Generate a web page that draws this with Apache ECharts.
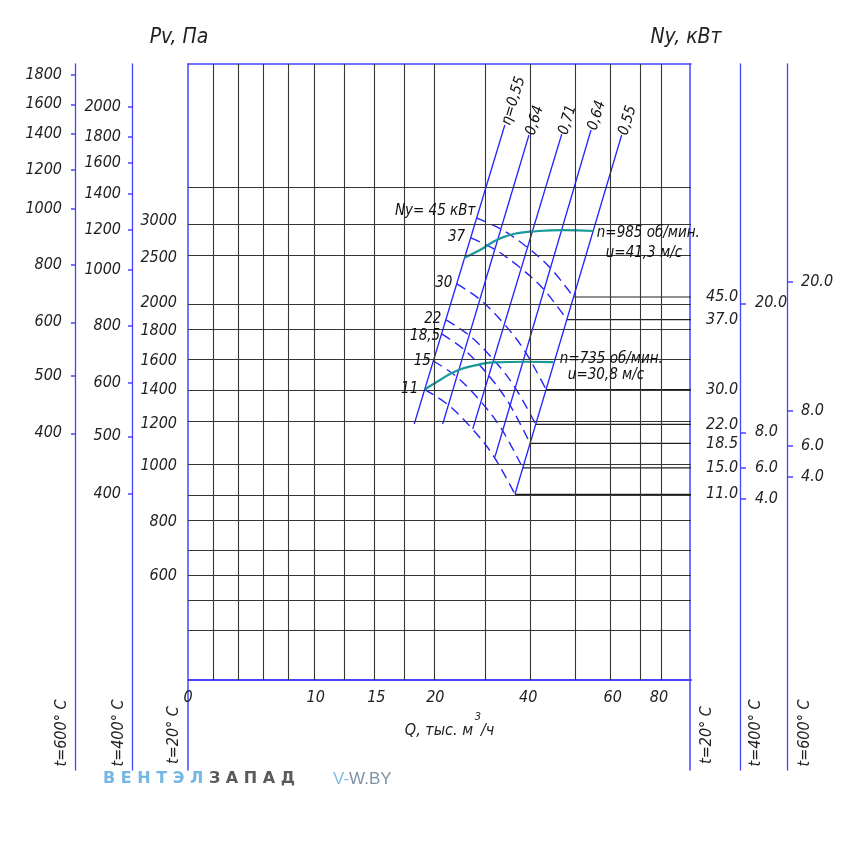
<!DOCTYPE html>
<html><head><meta charset="utf-8">
<script src="https://cdn.jsdelivr.net/npm/echarts@6/dist/echarts.min.js"></script>
<style>html,body{margin:0;padding:0;background:#fff}#c{width:851px;height:853px}</style>
</head><body><div id="c"></div>
<script>
// ---------- scale calibration of the nomogram (value -> fraction of plot) ----------
const qGridVals=[0,2,4,6,8,10,12.5,15,17.5,20,30,40,50,60,70,80,100];
const qGridFrac=[0,0.0523,0.1034,0.1537,0.2042,0.2539,0.3135,0.3744,0.4348,0.4917,0.5851,0.6765,0.7728,0.8443,0.8972,0.9364,1];
const pvGridVals=[300,400,500,600,700,800,900,1000,1200,1400,1600,1800,2000,2500,3000,4000,8000];
const pvGridFrac=[0,0.0752,0.1250,0.1688,0.2127,0.2570,0.3019,0.3479,0.4156,0.4713,0.5183,0.5661,0.6115,0.6856,0.7446,0.7998,1];

// tick labels
const qTickLabels=[0,10,15,20,40,60,80];
const pv20Labels=[3000,2500,2000,1800,1600,1400,1200,1000,800,600];
const pv600Ticks=[1800,1600,1400,1200,1000,800,600,500,400];
const pv600Frac=[0.9821,0.9346,0.8869,0.8284,0.7651,0.6737,0.5807,0.4935,0.4005];
const pv400Ticks=[2000,1800,1600,1400,1200,1000,800,600,500,400];
const pv400Frac=[0.9307,0.8820,0.8398,0.7898,0.7313,0.6664,0.5752,0.4826,0.3956,0.3019];
const n400Ticks=[20,8,6,4];
const n400Frac=[0.6115,0.4021,0.3446,0.2943];
const n600Ticks=[20,8,6,4];
const n600Frac=[0.6466,0.4372,0.3799,0.3295];

// efficiency lines (top -> bottom)
const etaNames=['η=0,55','0,64','0,71','0,64','0,55'];
const etaQ=[[34.9,18.16],[40.14,21.57],[46.9,27.96],[53.97,32.76],[63.38,37.1]];
const etaPv=[[6023,1200],[5698,1200],[5721,1176],[5860,1043],[5698,899]];

// constant power lines Ny, kW
const nyVals=[45,37,30,22,18.5,15,11];
const nyNames=['Ny= 45 кВт','37','30','22','18,5','15','11'];
const nyQ=[
 [28.83,34.07,39.33,44.36,49.36],
 [27.53,32.72,37.93,43.02,47.98],
 [24.57,29.32,34.17,39.02,43.68],
 [22.26,27.04,31.85,36.74,41.53],
 [21.34,26.04,30.78,35.59,40.37],
 [19.83,24.36,29.11,33.96,38.8],
 [19.08,22.57,27.36,32.22,37.11]];
const nyPv=[
 [3097,2893,2665,2398,2069],
 [2771,2614,2403,2162,1884],
 [2212,2049,1874,1677,1401],
 [1881,1777,1628,1434,1198],
 [1782,1678,1520,1329,1107],
 [1598,1494,1349,1184,992],
 [1401,1315,1189,1054,899]];

// fan curves
const n985Q=[26.17,29.51,33.13,36.74,40.35,47.23,54.61];
const n985Pv=[2500,2606,2743,2826,2857,2880,2867];
const n735Q=[19.1,21.0,24.55,28.81,32.39,39.65,45.17];
const n735Pv=[1403,1467,1531,1570,1589,1593,1591];

// ---------- helpers ----------
function interp(v,xs,ys){let i=0;if(v<=xs[0])i=0;else if(v>=xs[xs.length-1])i=xs.length-2;else{while(v>xs[i+1])i++;}
 const t=(v-xs[i])/(xs[i+1]-xs[i]);return ys[i]+t*(ys[i+1]-ys[i]);}
const qToU=q=>interp(q,qGridVals,qGridFrac);
const pvToU=p=>interp(p,pvGridVals,pvGridFrac);
const FF="'DejaVu Sans Condensed','Liberation Sans Narrow',sans-serif";
const TXT='#222222', AXC='#4545ff', ETA='#2424ff', GRIDC='#363636', TEAL='#18999a';
const U_BOT=-90/616;
function lookup(list){return (v)=>{let best=list[0],d=1e9;list.forEach(e=>{const dd=Math.abs(e.u-v);if(dd<d){d=dd;best=e;}});return best.t;};}
const lblStyle={color:TXT,fontSize:16,fontStyle:'italic',fontFamily:FF};

// ---------- axes ----------
const grids=[
 {left:188,top:64,width:503,height:616},
 {left:75,top:64,width:1,height:706},
 {left:132,top:64,width:1,height:706},
 {left:188,top:64,width:1,height:706},
 {left:690,top:64,width:1,height:706},
 {left:740,top:64,width:1,height:706},
 {left:787,top:64,width:1,height:706}];
const qLab=qTickLabels.map(q=>({u:qToU(q),t:String(q)}));
const xAxes=[
 {gridIndex:0,type:'value',min:0,max:1,position:'bottom',axisLine:{show:true,lineStyle:{color:AXC,width:2}},axisTick:{show:false},splitLine:{show:false},
  axisLabel:Object.assign({customValues:qLab.map(e=>e.u),formatter:lookup(qLab),margin:10},lblStyle)},
 {gridIndex:0,type:'value',min:0,max:1,position:'top',axisLine:{show:true,lineStyle:{color:AXC,width:1.5}},axisTick:{show:false},axisLabel:{show:false},splitLine:{show:false}}];
for(let g=1;g<=6;g++) xAxes.push({gridIndex:g,type:'value',show:false,min:0,max:1});

function sideAxis(g,pos,list,margin,tickLen,lw){
 return {gridIndex:g,type:'value',min:U_BOT,max:1,position:pos,
  axisLine:{show:true,lineStyle:{color:AXC,width:lw}},
  axisTick:{show:tickLen>0,length:tickLen,customValues:list.map(e=>e.u),lineStyle:{color:AXC,width:1.5}},
  axisLabel:Object.assign({customValues:list.map(e=>e.u),formatter:lookup(list),margin:margin},lblStyle),
  splitLine:{show:false}};
}
const l600=pv600Ticks.map((v,i)=>({u:pv600Frac[i],t:String(v)}));
const l400=pv400Ticks.map((v,i)=>({u:pv400Frac[i],t:String(v)}));
const l20=pv20Labels.map(v=>({u:pvToU(v),t:String(v)}));
const r20=nyVals.map((v,i)=>({u:pvToU(nyPv[i][4]),t:v.toFixed(1)}));
const r400=n400Ticks.map((v,i)=>({u:n400Frac[i],t:v.toFixed(1)}));
const r600=n600Ticks.map((v,i)=>({u:n600Frac[i],t:v.toFixed(1)}));
const yAxes=[
 {gridIndex:0,type:'value',min:0,max:1,show:false},
 sideAxis(1,'left',l600,13,4,1.3),
 sideAxis(2,'left',l400,11,4,1.3),
 sideAxis(3,'left',l20,11,0,1.5),
 sideAxis(4,'right',r20,15,0,1.5),
 sideAxis(5,'right',r400,14,6,1.3),
 sideAxis(6,'right',r600,13,6,1.3)];

// ---------- series ----------
const series=[];
const gridLines=[];
qGridVals.slice(1,-1).forEach(q=>gridLines.push({xAxis:qToU(q)}));
pvGridVals.slice(1,-1).forEach(p=>gridLines.push({yAxis:pvToU(p)}));
series.push({type:'line',data:[[0,0]],symbol:'none',lineStyle:{opacity:0},silent:true,animation:false,
 markLine:{silent:true,animation:false,symbol:['none','none'],label:{show:false},lineStyle:{color:GRIDC,width:1.1,type:'solid'},emphasis:{disabled:true},data:gridLines}});
// Ny horizontal leaders to right scale
nyVals.forEach((v,i)=>{const p=nyPv[i][4];
 series.push({type:'line',data:[[qToU(nyQ[i][4]),pvToU(p)],[1,pvToU(p)]],symbol:'none',silent:true,animation:false,lineStyle:{color:'#1e1e1e',width:1.2}});});
// efficiency lines
etaQ.forEach((qs,i)=>series.push({type:'line',data:qs.map((q,j)=>[qToU(q),pvToU(etaPv[i][j])]),symbol:'none',silent:true,animation:false,lineStyle:{color:ETA,width:1.3},z:3}));
// Ny dashed curves
nyQ.forEach((qs,i)=>series.push({type:'line',smooth:0.35,data:qs.map((q,j)=>[qToU(q),pvToU(nyPv[i][j])]),symbol:'none',silent:true,animation:false,lineStyle:{color:ETA,width:1.4,type:[10,6]},z:3}));
// fan curves
series.push({type:'line',smooth:0.5,data:n985Q.map((q,j)=>[qToU(q),pvToU(n985Pv[j])]),symbol:'none',silent:true,animation:false,lineStyle:{color:TEAL,width:2.2},z:4});
series.push({type:'line',smooth:0.5,data:n735Q.map((q,j)=>[qToU(q),pvToU(n735Pv[j])]),symbol:'none',silent:true,animation:false,lineStyle:{color:TEAL,width:2.2},z:4});

const smallLbl={color:'#111111',opacity:1,fontSize:15,fontStyle:'italic',fontFamily:FF};
const HIDE={color:'rgba(255,255,255,0)',opacity:1};
const labelSeries=(lbl,data)=>({type:'scatter',symbolSize:1,itemStyle:HIDE,silent:true,animation:false,z:5,
 emphasis:{disabled:true},label:Object.assign({show:true},lbl,smallLbl),data:data});
// eta labels
series.push(labelSeries({position:'right',distance:1,rotate:73,align:'left',verticalAlign:'middle'},
 etaNames.map((n,i)=>({value:[qToU(etaQ[i][0]),pvToU(etaPv[i][0])],label:{formatter:n}}))));
// Ny labels
const nyDist=[1,5,4,4,1,2,6], nyOff=[[0,-7],[0,-1],[0,-1],[0,-1],[0,2],[0,0],[0,0]];
series.push(labelSeries({position:'left',align:'right',verticalAlign:'middle'},
 nyNames.map((n,i)=>({value:[qToU(nyQ[i][0]),pvToU(nyPv[i][0])],label:{formatter:n,distance:nyDist[i],offset:nyOff[i]}}))));
// fan curve labels
const e985=[qToU(n985Q[n985Q.length-1]),pvToU(n985Pv[n985Pv.length-1])];
const e735=[qToU(n735Q[n735Q.length-1]),pvToU(n735Pv[n735Pv.length-1])];
series.push(labelSeries({position:'right',align:'left',verticalAlign:'middle'},[
  {value:e985,label:{formatter:'n=985 об/мин.',distance:3,offset:[0,2]}},
  {value:e985,label:{formatter:'u=41,3 м/с',distance:12,offset:[0,22]}},
  {value:e735,label:{formatter:'n=735 об/мин.',distance:6,offset:[0,-3]}},
  {value:e735,label:{formatter:'u=30,8 м/с',distance:14,offset:[0,13]}}]));

// ---------- texts ----------
function txt(x,y,s,size,rot){return {type:'text',x:x,y:y,rotation:rot||0,silent:true,
 style:{text:s,fill:TXT,font:'italic '+size+'px '+FF,align:'center',verticalAlign:'middle',textAlign:'center',textVerticalAlign:'middle'}};}
const graphic=[
 txt(179,38,'Pv, Па',21),
 txt(686,38,'Ny, кВт',21),
 txt(62,733,'t=600° С',16,Math.PI/2),
 txt(119,733,'t=400° С',16,Math.PI/2),
 txt(174,735,'t=20° С',16,Math.PI/2),
 txt(707,735,'t=20° С',16,Math.PI/2),
 txt(756,733,'t=400° С',16,Math.PI/2),
 txt(805,733,'t=600° С',16,Math.PI/2),
 {type:'text',x:473,y:731,silent:true,style:{text:'Q, тыс. м',fill:TXT,font:'italic 16px '+FF,align:'right',verticalAlign:'middle',textAlign:'right',textVerticalAlign:'middle'}},
 {type:'text',x:478,y:717,silent:true,style:{text:'3',fill:TXT,font:'italic 11px '+FF,align:'center',verticalAlign:'middle',textAlign:'center',textVerticalAlign:'middle'}},
 {type:'text',x:481,y:731,silent:true,style:{text:'/ч',fill:TXT,font:'italic 16px '+FF,align:'left',verticalAlign:'middle',textAlign:'left',textVerticalAlign:'middle'}},
 {type:'text',x:103,y:779,silent:true,style:{text:'{a|В Е Н Т Э Л }{b|З А П А Д}',align:'left',verticalAlign:'middle',textAlign:'left',textVerticalAlign:'middle',
   rich:{a:{fill:'#74b6e4',font:'bold 16px "DejaVu Sans",sans-serif'},b:{fill:'#5a5a5a',font:'bold 16px "DejaVu Sans",sans-serif'}}}},
 {type:'text',x:333,y:779,silent:true,style:{text:'{a|V-}{b|W.BY}',align:'left',verticalAlign:'middle',textAlign:'left',textVerticalAlign:'middle',
   rich:{a:{fill:'#7ec0ea',font:'17px "Liberation Sans",sans-serif'},b:{fill:'#7f93a8',font:'17px "Liberation Sans",sans-serif'}}}}
];

const chart=echarts.init(document.getElementById('c'),null,{renderer:'canvas'});
chart.setOption({animation:false,backgroundColor:'#fff',grid:grids,xAxis:xAxes,yAxis:yAxes,series:series,graphic:graphic});
</script></body></html>
